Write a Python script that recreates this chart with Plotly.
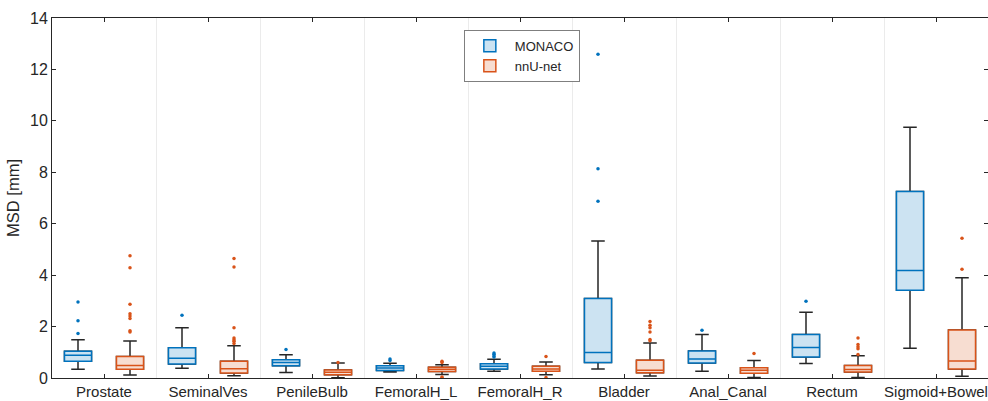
import plotly.graph_objects as go

categories = ["Prostate", "SeminalVes", "PenileBulb", "FemoralH_L", "FemoralH_R",
              "Bladder", "Anal_Canal", "Rectum", "Sigmoid+Bowel"]

# MONACO box statistics
mon_low = [0.34, 0.38, 0.21, 0.23, 0.26, 0.35, 0.26, 0.56, 1.16]
mon_q1 = [0.65, 0.54, 0.48, 0.29, 0.35, 0.60, 0.58, 0.82, 3.41]
mon_med = [0.88, 0.77, 0.60, 0.39, 0.46, 0.99, 0.74, 1.19, 4.18]
mon_q3 = [1.04, 1.18, 0.71, 0.48, 0.55, 3.09, 1.05, 1.69, 7.25]
mon_up = [1.49, 1.95, 0.90, 0.57, 0.73, 5.33, 1.69, 2.56, 9.75]
mon_out = [[2.96, 2.23, 1.73], [2.44], [1.11], [0.74, 0.68], [0.97, 0.92, 0.86, 0.82],
           [12.59, 8.14, 6.87], [1.86], [2.98], []]

# nnU-net box statistics
nn_low = [0.12, 0.09, 0.01, 0.14, 0.13, 0.08, 0.02, 0.02, 0.07]
nn_q1 = [0.34, 0.19, 0.13, 0.25, 0.26, 0.20, 0.18, 0.23, 0.35]
nn_med = [0.49, 0.36, 0.22, 0.34, 0.35, 0.30, 0.30, 0.33, 0.66]
nn_q3 = [0.84, 0.65, 0.31, 0.42, 0.46, 0.69, 0.40, 0.49, 1.87]
nn_up = [1.44, 1.25, 0.58, 0.52, 0.62, 1.36, 0.68, 0.87, 3.90]
nn_out = [[4.75, 4.29, 2.87, 2.50, 2.41, 2.31, 1.84, 1.79],
          [4.65, 4.32, 1.95, 1.56, 1.49, 1.43, 1.34],
          [0.60], [0.65, 0.60, 0.04, 0.01], [0.84, 0.02],
          [2.20, 2.05, 1.95, 1.79, 1.50, 1.45], [0.95],
          [1.56, 1.30, 1.22, 1.14, 0.91], [5.43, 4.23]]

series = [
    ("MONACO", mon_low, mon_q1, mon_med, mon_q3, mon_up, mon_out, -0.25, "#0072BD", "#CCE3F2"),
    ("nnU-net", nn_low, nn_q1, nn_med, nn_q3, nn_up, nn_out, 0.25, "#D95319", "#F7DDD1"),
]

WHISK = "#262626"
BOXW = 0.26

fig = go.Figure()
for name, low, q1, med, q3, up, outs, off, col, fill in series:
    pos = [i + 1 + off for i in range(len(categories))]
    # whiskers (dark)
    fig.add_trace(go.Box(
        x=pos, q1=q1, median=med, q3=q3, lowerfence=low, upperfence=up,
        width=BOXW, whiskerwidth=0.5, line=dict(color=WHISK, width=1.5),
        fillcolor="rgba(0,0,0,0)", showlegend=False, hoverinfo="skip",
    ))
    # coloured box
    fig.add_trace(go.Box(
        x=pos, q1=q1, median=med, q3=q3, lowerfence=q1, upperfence=q3,
        width=BOXW, whiskerwidth=0, line=dict(color=col, width=1.5),
        fillcolor=fill, name=name, showlegend=True,
    ))
    ox, oy = [], []
    for i, vals in enumerate(outs):
        for v in vals:
            ox.append(i + 1 + off)
            oy.append(v)
    fig.add_trace(go.Scatter(
        x=ox, y=oy, mode="markers", marker=dict(color=col, size=3.5),
        showlegend=False, hoverinfo="skip",
    ))

AX = "#262626"
fig.update_layout(
    width=988, height=401,
    margin=dict(l=52, r=0, t=18, b=23),
    plot_bgcolor="white", paper_bgcolor="white",
    font=dict(family="Liberation Sans, Arial, sans-serif", size=14, color=AX),
    boxmode="overlay",
    showlegend=True,
    legend=dict(x=0.44, y=0.967, xanchor="left", yanchor="top",
                bgcolor="white", bordercolor="#7f7f7f", borderwidth=1,
                font=dict(size=13), tracegroupgap=0, itemwidth=40),
)
fig.update_xaxes(
    range=[0.5, 9.5], tickvals=list(range(1, len(categories) + 1)), ticktext=categories,
    showline=True, linecolor=AX, linewidth=1, mirror="ticks",
    ticks="inside", ticklen=4, tickcolor=AX, showgrid=False, zeroline=False,
    minor=dict(tickvals=[i + 1.5 for i in range(len(categories) - 1)], showgrid=True,
               gridcolor="#ebebeb", gridwidth=1, ticks=""),
    tickfont=dict(size=15),
)
fig.update_yaxes(
    range=[0, 14], dtick=2, title=dict(text="MSD [mm]", font=dict(size=16.5), standoff=6),
    showline=True, linecolor=AX, linewidth=1, mirror="ticks",
    ticks="inside", ticklen=4, tickcolor=AX, showgrid=False, zeroline=False,
    tickfont=dict(size=16),
)

fig.write_html("out.html")
